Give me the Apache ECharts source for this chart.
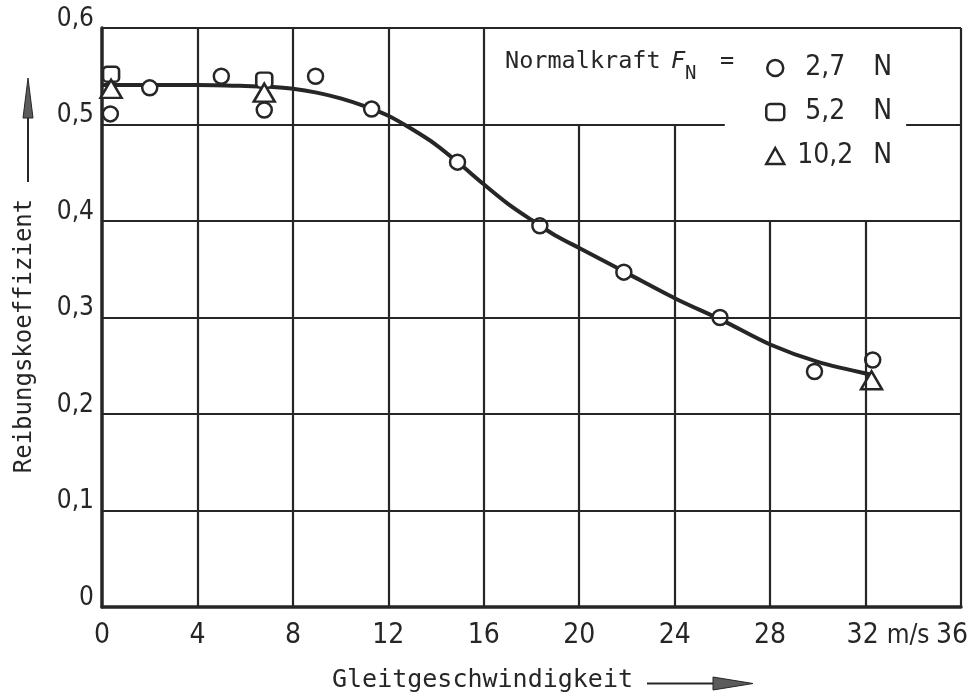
<!DOCTYPE html>
<html><head><meta charset="utf-8">
<script src="https://cdn.jsdelivr.net/npm/echarts@6/dist/echarts.min.js"></script>
<style>html,body{margin:0;padding:0;background:#fff}#c{width:970px;height:692px}</style>
</head><body><div id="c"></div>
<script>
// ---- data ----
const circleX = [0.35, 2.0, 5.0, 6.8, 8.95, 11.3, 14.9, 18.35, 21.87, 25.9, 29.86, 32.3];
const circleY = [0.511, 0.538, 0.550, 0.515, 0.550, 0.516, 0.461, 0.395, 0.347, 0.300, 0.244, 0.256];
const squareX = [0.38, 6.8];
const squareY = [0.552, 0.546];
const triX = [0.38, 6.8, 32.25];
const triY = [0.537, 0.533, 0.235];
const curveX = [0, 2, 4, 6, 7, 8, 9, 10, 11, 12, 13, 14, 15, 16, 17, 18, 19, 20, 21, 22, 24, 26, 28, 30, 32.2];
const curveY = [0.541, 0.541, 0.541, 0.540, 0.539, 0.537, 0.533, 0.527, 0.519, 0.509, 0.495, 0.479, 0.459, 0.438, 0.418, 0.401, 0.385, 0.372, 0.359, 0.346, 0.320, 0.297, 0.272, 0.254, 0.241];
const seriesNames = ['2,7 N', '5,2 N', '10,2 N'];
const xTickValues = [0, 4, 8, 12, 16, 20, 24, 28, 32, 36];
const yTickValues = [0, 0.1, 0.2, 0.3, 0.4, 0.5, 0.6];
const xUnit = 'm/s';
const xTitle = 'Gleitgeschwindigkeit';
const yTitle = 'Reibungskoeffizient';
const legendTitle = 'Normalkraft';
// grid segments (axis units): vertical [x, yFrom, yTo], horizontal [y, xFrom, xTo]
const vGrid = [[4,0,0.6],[8,0,0.6],[12,0,0.6],[16,0,0.6],[20,0,0.5],[24,0,0.5],[28,0,0.4],[32,0,0.4],[36,0,0.6]];
const hGrid = [[0.1,0,36],[0.2,0,36],[0.3,0,36],[0.4,0,36],[0.5,0,26.1],[0.5,33.7,36],[0.6,0,36]];

// ---- style ----
const INK = '#262626';
const NARROW = '"Liberation Sans Narrow", "DejaVu Sans Condensed", sans-serif';
const MONO = '"DejaVu Sans Mono", monospace';

const pairs = (xs, ys) => xs.map((x, i) => [x, ys[i]]);
const gridSegs = vGrid.map(([x, a, b]) => [{coord: [x, a]}, {coord: [x, b]}])
  .concat(hGrid.map(([y, a, b]) => [{coord: [a, y]}, {coord: [b, y]}]));

const symStyle = {color: '#fff', borderColor: INK, borderWidth: 2.5, opacity: 1};

const xLabel = v => {
  if (v === 32) return '{p| }{v|32}{g| }{u|' + xUnit + '}';
  if (v === 36) return '{v|36}{q| }';
  return String(v);
};

const chart = echarts.init(document.getElementById('c'), null, {renderer: 'canvas'});
chart.setOption({
  animation: false,
  backgroundColor: '#fff',
  grid: {left: 102, right: 9, top: 28, bottom: 85, outerBoundsMode: 'none', containLabel: false},
  xAxis: {
    type: 'value', min: 0, max: 36, interval: 4,
    axisLine: {show: true, onZero: false, lineStyle: {color: INK, width: 3.5}},
    axisTick: {show: false},
    splitLine: {show: false},
    axisLabel: {
      margin: 15, color: INK, fontFamily: NARROW, fontSize: 28,
      showMinLabel: true, showMaxLabel: true,
      formatter: xLabel,
      rich: {
        p: {width: 45, fontFamily: NARROW, fontSize: 28},
        v: {fontFamily: NARROW, fontSize: 28, color: INK},
        g: {width: 8, fontFamily: NARROW, fontSize: 28},
        q: {width: 18, fontFamily: NARROW, fontSize: 28},
        u: {fontFamily: NARROW, fontSize: 26, color: INK}
      }
    },
    name: '{t|' + xTitle + '}{sp| }',
    nameLocation: 'middle', nameGap: 58,
    nameTextStyle: {
      rich: {
        t: {fontFamily: MONO, fontSize: 25, color: INK, lineHeight: 30},
        sp: {width: 98, fontFamily: MONO, fontSize: 25, lineHeight: 30}
      }
    }
  },
  yAxis: {
    type: 'value', min: 0, max: 0.6, interval: 0.1,
    axisLine: {show: true, onZero: false, lineStyle: {color: INK, width: 3.5}},
    axisTick: {show: false},
    splitLine: {show: false},
    axisLabel: {
      margin: 8, color: INK, fontFamily: NARROW, fontSize: 26, verticalAlign: 'bottom', lineHeight: 18,
      formatter: v => v === 0 ? '0' : v.toFixed(1).replace('.', ',')
    },
    name: '{t|' + yTitle + '}{sp| }',
    nameLocation: 'middle', nameGap: 63,
    nameTextStyle: {
      rich: {
        t: {fontFamily: MONO, fontSize: 24, color: INK, lineHeight: 28},
        sp: {width: 37, fontFamily: MONO, fontSize: 24, lineHeight: 28}
      }
    }
  },
  legend: {
    orient: 'vertical', left: 760, top: 49,
    itemWidth: 18, itemHeight: 16, itemGap: 16,
    selectedMode: false,
    data: [
      {name: seriesNames[0], icon: 'circle'},
      {name: seriesNames[1], icon: 'roundRect'},
      {name: seriesNames[2], icon: 'triangle'}
    ],
    itemStyle: {color: '#fff', borderColor: INK, borderWidth: 2.5, opacity: 1},
    formatter: name => {
      const parts = name.split(' ');
      return '{v|' + parts[0] + '}{s| }{n|' + parts[1] + '}';
    },
    textStyle: {
      color: INK, fontFamily: NARROW, fontSize: 28, lineHeight: 26,
      rich: {
        v: {width: 72, align: 'right', fontFamily: NARROW, fontSize: 28, color: INK, lineHeight: 26},
        s: {width: 12, fontFamily: NARROW, fontSize: 28, lineHeight: 26},
        n: {fontFamily: NARROW, fontSize: 28, color: INK, lineHeight: 26}
      }
    }
  },
  graphic: {
    elements: [
      {type: 'text', x: 505, y: 62, silent: true,
        style: {text: legendTitle, font: '23.5px ' + MONO, fill: INK, align: 'left', verticalAlign: 'middle'}},
      {type: 'text', x: 671, y: 62, silent: true,
        style: {text: 'F', font: 'italic 23.5px ' + MONO, fill: INK, align: 'left', verticalAlign: 'middle'}},
      {type: 'text', x: 685, y: 74, silent: true,
        style: {text: 'N', font: '19px ' + MONO, fill: INK, align: 'left', verticalAlign: 'middle'}},
      {type: 'text', x: 727, y: 62, silent: true,
        style: {text: '=', font: '23.5px ' + MONO, fill: INK, align: 'center', verticalAlign: 'middle'}},
      // x title arrow
      {type: 'line', silent: true, shape: {x1: 647, y1: 683.5, x2: 716, y2: 683.5}, style: {stroke: INK, lineWidth: 2}},
      {type: 'polygon', silent: true, shape: {points: [[713, 677], [753, 683.5], [713, 690]]}, style: {fill: '#5c5c5c', stroke: INK, lineWidth: 1}},
      // y title arrow
      {type: 'line', silent: true, shape: {x1: 28, y1: 182, x2: 28, y2: 112}, style: {stroke: INK, lineWidth: 2}},
      {type: 'polygon', silent: true, shape: {points: [[28, 78], [23, 118], [33, 118]]}, style: {fill: '#5c5c5c', stroke: INK, lineWidth: 1}}
    ]
  },
  series: [
    {
      type: 'line', data: [], silent: true, z: 1,
      markLine: {
        silent: true, symbol: ['none', 'none'], label: {show: false},
        lineStyle: {color: INK, width: 2.2, type: 'solid'},
        emphasis: {disabled: true},
        animation: false,
        data: gridSegs
      }
    },
    {
      type: 'line', data: pairs(curveX, curveY), smooth: 0.3, showSymbol: false, symbol: 'none',
      lineStyle: {color: INK, width: 4}, z: 2, silent: true
    },
    {
      name: seriesNames[0], type: 'scatter', data: pairs(circleX, circleY), z: 3,
      symbol: 'circle', symbolSize: 15, itemStyle: symStyle
    },
    {
      name: seriesNames[1], type: 'scatter', data: pairs(squareX, squareY), z: 3,
      symbol: 'roundRect', symbolSize: [16, 15], itemStyle: symStyle
    },
    {
      name: seriesNames[2], type: 'scatter', data: pairs(triX, triY), z: 4,
      symbol: 'triangle', symbolSize: [21, 18], itemStyle: symStyle
    }
  ]
});
</script>
</body></html>
